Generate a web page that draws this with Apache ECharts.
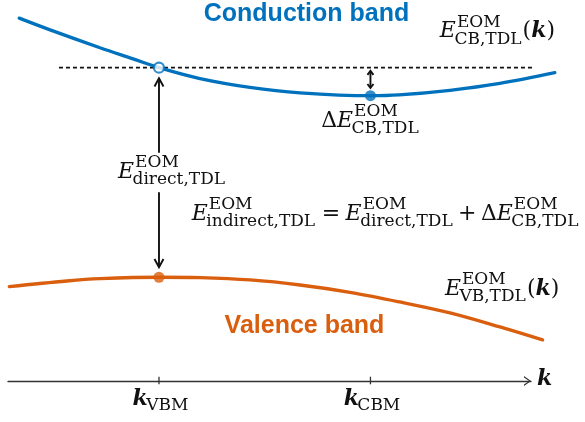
<!DOCTYPE html>
<html>
<head>
<meta charset="utf-8">
<script src="https://cdn.jsdelivr.net/npm/echarts@6/dist/echarts.min.js"></script>
<style>
  html, body { margin: 0; padding: 0; background: #fff; }
  #chart { width: 585px; height: 422px; }
</style>
</head>
<body>
<div id="chart"></div>
<script>
// Band edges along k (k_VBM = 0, k_CBM = 1); energies in units of the direct gap.
const cbK = [-0.661, -0.515, -0.279, -0.123, 0.000, 0.194, 0.430, 0.667, 1.000, 1.135, 1.376, 1.612, 1.872];
const cbE = [ 1.236,  1.180,  1.095,  1.042, 1.000, 0.948, 0.906, 0.880, 0.866, 0.870, 0.892, 0.925, 0.976];
const vbK = [-0.708, -0.436, -0.279, 0.000, 0.194, 0.430, 0.667, 0.903, 1.139, 1.376, 1.612, 1.814];
const vbE = [-0.045, -0.018, -0.007, 0.000, -0.002, -0.013, -0.037, -0.072, -0.118, -0.170, -0.237, -0.299];

// Extrema and gaps
const kVBM = 0, kCBM = 1;
const eVBM = 0.000;       // valence band maximum
const eCBdirect = 1.000;  // conduction band at k_VBM
const eCBM = 0.866;       // conduction band minimum
const refLineK = [-0.473, 1.778];  // extent of the dashed reference level

// x-axis ticks
const tickK = [kVBM, kCBM];
const tickNames = ['VBM', 'CBM'];

const BLUE = '#0072BD', ORANGE = '#D95F0E', INK = '#111111', AXIS = '#333333';
const SERIF = '"DejaVu Serif"';
const MAIN = 22, SCRIPT = 17, BASELINE_RATIO = 0.346;

// Plot window: the data grid is a little wider than the drawn k axis,
// both share the same scale (pixels per unit).
const X_MIN = -0.714, X_AXIS_END = 1.759, X_MAX = 1.92;
const Y_MIN = -0.495, Y_MAX = 1.305;
const eMid = (eVBM + eCBdirect) / 2;

// ---- small math typesetter: italic/roman/bold-italic runs with stacked scripts ----
const mctx = document.createElement('canvas').getContext('2d');
function fontSpec(kind, size) {
  return {
    fontFamily: SERIF, fontSize: size,
    fontStyle: (kind === 'it' || kind === 'bi') ? 'italic' : 'normal',
    fontWeight: kind === 'bi' ? 'bold' : 'normal'
  };
}
function measure(str, f) {
  mctx.font = f.fontStyle + ' ' + f.fontWeight + ' ' + f.fontSize + 'px ' + f.fontFamily;
  return mctx.measureText(str).width;
}
function glyph(str, x, base, f) {
  return {
    type: 'text', x: x, y: base - BASELINE_RATIO * f.fontSize, silent: true,
    style: Object.assign({
      text: str, fill: INK,
      align: 'left', verticalAlign: 'middle',
      textAlign: 'left', textVerticalAlign: 'middle'
    }, f)
  };
}
function mathGroup(tokens, align) {
  let x = 0;
  const children = [];
  tokens.forEach(function (tok) {
    if (tok.gap !== undefined) { x += tok.gap * MAIN; return; }
    if (tok.t !== undefined) {
      const f = fontSpec(tok.s || 'rm', MAIN);
      children.push(glyph(tok.t, x, 0, f));
      x += measure(tok.t, f);
      return;
    }
    const f = fontSpec('rm', SCRIPT);
    let w = 0;
    if (tok.sup) {
      children.push(glyph(tok.sup, x + 1, -0.5 * MAIN, f));
      w = Math.max(w, 1 + measure(tok.sup, f));
    }
    if (tok.sub) {
      const drop = tok.sup ? 0.26 * MAIN : 0.2 * MAIN;
      children.push(glyph(tok.sub, x - 1.5, drop, f));
      w = Math.max(w, -1.5 + measure(tok.sub, f));
    }
    x += w + 1;
  });
  const shift = align === 'center' ? -x / 2 : 0;
  children.forEach(function (c) { c.x += shift; });
  return children;
}

// ---- label content ----
const labelSpecs = [
  [{ t: 'E', s: 'it' }, { sup: 'EOM', sub: 'CB,TDL' }, { t: '(' }, { t: 'k', s: 'bi' }, { t: ')' }],
  [{ t: 'E', s: 'it' }, { sup: 'EOM', sub: 'VB,TDL' }, { t: '(' }, { t: 'k', s: 'bi' }, { t: ')' }],
  [{ t: '\u0394' }, { t: 'E', s: 'it' }, { sup: 'EOM', sub: 'CB,TDL' }],
  [{ t: 'E', s: 'it' }, { sup: 'EOM', sub: 'direct,TDL' }],
  [{ t: 'E', s: 'it' }, { sup: 'EOM', sub: 'indirect,TDL' }, { gap: 0.25 }, { t: '=' }, { gap: 0.25 },
   { t: 'E', s: 'it' }, { sup: 'EOM', sub: 'direct,TDL' }, { gap: 0.2 }, { t: '+' }, { gap: 0.2 },
   { t: '\u0394' }, { t: 'E', s: 'it' }, { sup: 'EOM', sub: 'CB,TDL' }],
  [{ t: 'k', s: 'bi' }]
];
tickNames.forEach(function (n) { labelSpecs.push([{ t: 'k', s: 'bi' }, { sub: n }]); });

// Label anchors in data space plus pixel offsets to the text baseline
const labelItems = [
  { at: [cbK[cbK.length - 1], cbE[cbE.length - 1]], dx: -115, dy: -33.4, align: 'left', spec: 0 },
  { at: [vbK[vbK.length - 1], vbE[vbE.length - 1]], dx: -97.7, dy: -43.3, align: 'left', spec: 1 },
  { at: [kCBM, eCBM], dx: 0, dy: 33, align: 'center', spec: 2 },
  { at: [kVBM, eMid], dx: -41, dy: 7.5, align: 'left', spec: 3 },
  { at: [kVBM, eMid], dx: 32.7, dy: 49.5, align: 'left', spec: 4 },
  { at: [X_AXIS_END, Y_MIN], dx: 6, dy: 5.7, align: 'left', spec: 5 }
];
tickK.forEach(function (k, i) {
  labelItems.push({ at: [k, Y_MIN], dx: 2, dy: 25.7, align: 'center', spec: 6 + i });
});

// ---- arrows: [k, lower energy, upper energy, kind] ----
const arrowItems = [
  [kVBM, eVBM, eCBdirect, 0],
  [kCBM, eCBM, eCBdirect, 1]
];

function chevron(x, tipY, dir, half, len, style) {
  // dir = +1: points up (arms below tip); -1: points down
  return {
    type: 'polyline', silent: true,
    shape: { points: [[x - half, tipY + dir * len], [x, tipY], [x + half, tipY + dir * len]] },
    style: style
  };
}

const chart = echarts.init(document.getElementById('chart'), null, { renderer: 'canvas' });

chart.setOption({
  animation: false,
  backgroundColor: '#ffffff',
  grid: [
    { left: 8, right: 20, top: 3.7, bottom: 41 },   // data
    { left: 8, right: 54, top: 3.7, bottom: 41 }    // drawn k axis
  ],
  xAxis: [
    {
      gridIndex: 0, type: 'value', min: X_MIN, max: X_MAX,
      axisLine: { show: false }, axisTick: { show: false },
      axisLabel: { show: false }, splitLine: { show: false }
    },
    {
      gridIndex: 1, type: 'value', min: X_MIN, max: X_AXIS_END,
      axisLine: {
        show: true, onZero: false,
        lineStyle: { color: AXIS, width: 1.3 },
        symbol: ['none', 'path://M0,7L5,0L10,7L8.6,7L5,1.9L1.4,7Z'],
        symbolSize: [10, 7],
        symbolOffset: [0, -3.5]
      },
      axisTick: { show: false }, axisLabel: { show: false }, splitLine: { show: false }
    }
  ],
  yAxis: [
    { gridIndex: 0, type: 'value', min: Y_MIN, max: Y_MAX, show: false, splitLine: { show: false } },
    { gridIndex: 1, type: 'value', min: Y_MIN, max: Y_MAX, show: false, splitLine: { show: false } }
  ],
  graphic: [
    {
      type: 'text', x: 306.5, y: 14, silent: true,
      style: {
        text: 'Conduction band', fill: BLUE,
        fontFamily: '"Liberation Sans", Arial, sans-serif', fontSize: 25, fontWeight: 'bold',
        align: 'center', verticalAlign: 'middle', textAlign: 'center', textVerticalAlign: 'middle'
      }
    },
    {
      type: 'text', x: 304.5, y: 326.3, silent: true,
      style: {
        text: 'Valence band', fill: ORANGE,
        fontFamily: '"Liberation Sans", Arial, sans-serif', fontSize: 25, fontWeight: 'bold',
        align: 'center', verticalAlign: 'middle', textAlign: 'center', textVerticalAlign: 'middle'
      }
    }
  ],
  series: [
    {
      name: 'reference level', type: 'line', z: 1,
      data: refLineK.map(function (k) { return [k, eCBdirect]; }),
      showSymbol: false, symbol: 'none',
      lineStyle: { color: '#111', width: 1.6, type: [4, 3] }
    },
    {
      name: 'conduction band', type: 'line', z: 2,
      data: cbK.map(function (k, i) { return [k, cbE[i]]; }),
      smooth: 0.35, showSymbol: false, symbol: 'none',
      lineStyle: { color: BLUE, width: 3.3, cap: 'round' }
    },
    {
      name: 'valence band', type: 'line', z: 2,
      data: vbK.map(function (k, i) { return [k, vbE[i]]; }),
      smooth: 0.35, showSymbol: false, symbol: 'none',
      lineStyle: { color: ORANGE, width: 3.3, cap: 'round' }
    },
    {
      name: 'tick marks', type: 'custom', z: 3, clip: false,
      data: tickK.map(function (k) { return [k, Y_MIN]; }),
      renderItem: function (params, api) {
        const p = api.coord([api.value(0), api.value(1)]);
        return {
          type: 'line', silent: true,
          shape: { x1: p[0], y1: p[1] - 4.3, x2: p[0], y2: p[1] + 3.3 },
          style: { stroke: AXIS, lineWidth: 1.3 }
        };
      }
    },
    {
      name: 'gap arrows', type: 'custom', z: 4, clip: false,
      data: arrowItems,
      renderItem: function (params, api) {
        const k = api.value(0), kind = api.value(3);
        const lo = api.coord([k, api.value(1)]);
        const hi = api.coord([k, api.value(2)]);
        const x = lo[0];
        const style = { stroke: INK, lineWidth: 1.9, fill: null, lineJoin: 'miter' };
        if (kind === 0) {
          const top = hi[1] + 10.6, bot = lo[1] - 10;
          const mid = (lo[1] + hi[1]) / 2, half = 19.7;
          return {
            type: 'group', children: [
              { type: 'line', silent: true, shape: { x1: x, y1: top + 1, x2: x, y2: mid - half }, style: style },
              { type: 'line', silent: true, shape: { x1: x, y1: mid + half, x2: x, y2: bot - 1 }, style: style },
              chevron(x, top, 1, 4.5, 8.3, style),
              chevron(x, bot, -1, 4.5, 8.3, style)
            ]
          };
        }
        const top = hi[1] + 3.3, bot = lo[1] - 7.7;
        return {
          type: 'group', children: [
            { type: 'line', silent: true, shape: { x1: x, y1: top + 1, x2: x, y2: bot - 1 }, style: style },
            chevron(x, top, 1, 3, 4, style),
            chevron(x, bot, -1, 3, 4, style)
          ]
        };
      }
    },
    {
      name: 'direct CB point', type: 'scatter', z: 5,
      data: [[kVBM, eCBdirect]], symbol: 'circle', symbolSize: 10,
      itemStyle: { color: '#ffffff', borderColor: BLUE, borderWidth: 2.2 }
    },
    {
      name: 'CBM', type: 'scatter', z: 5,
      data: [[kCBM, eCBM]], symbol: 'circle', symbolSize: 11,
      itemStyle: { color: BLUE }
    },
    {
      name: 'VBM', type: 'scatter', z: 5,
      data: [[kVBM, eVBM]], symbol: 'circle', symbolSize: 11,
      itemStyle: { color: ORANGE }
    },
    {
      name: 'labels', type: 'custom', z: 6, clip: false,
      data: labelItems.map(function (l, i) { return [l.at[0], l.at[1], i]; }),
      renderItem: function (params, api) {
        const item = labelItems[api.value(2)];
        const p = api.coord([api.value(0), api.value(1)]);
        return {
          type: 'group', x: p[0] + item.dx, y: p[1] + item.dy,
          children: mathGroup(labelSpecs[item.spec], item.align)
        };
      }
    }
  ]
});
</script>
</body>
</html>
